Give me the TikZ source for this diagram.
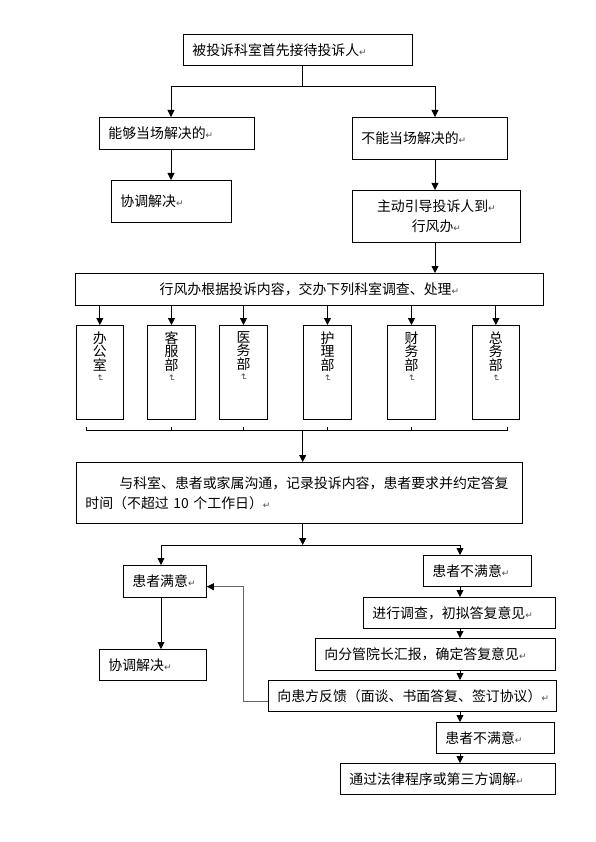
\documentclass[tikz,border=0pt]{standalone}
\usepackage{fontspec}
\setmainfont{Noto Sans CJK SC}
\newfontfamily\markfont{DejaVu Sans}
\usetikzlibrary{arrows.meta}
\newcommand\pmark{{\markfont\fontsize{9}{9}\selectfont\textcolor{black!70}{↵}}}

\begin{document}
\lineskiplimit=-20pt
\begin{tikzpicture}[x=1pt, y=-1pt, line width=0.8pt, font=\fontsize{13.9}{20}\selectfont,
        box/.style = {draw, anchor=north west, inner xsep=9pt, inner ysep=0pt, align=left},
        cbox/.style = {draw, anchor=north west, inner sep=0pt, align=center},
        dept/.style = {draw, anchor=north west, minimum width=47.5pt, minimum height=94pt, inner sep=0pt},
        vtext/.style = {anchor=north, yshift=-6pt, inner sep=0pt, align=center, font=\fontsize{13.9}{13.6}\selectfont},
        arr/.style = {-{Triangle[length=7pt,width=7pt,color=black]}}]
        \useasboundingbox (0,0) rectangle (595,842);
        \node[box, text width=211pt, minimum height=31pt] (top) at (183,34) {被投诉科室首先接待投诉人\pmark};
        \node[box, text width=137pt, minimum height=32pt] (can) at (99,117) {能够当场解决的\pmark};
        \node[box, text width=137pt, minimum height=42pt] (cannot) at (352,117) {不能当场解决的\pmark};
        \node[box, text width=102pt, minimum height=42pt] (solve1) at (111,180) {协调解决\pmark};
        \node[cbox, minimum width=168pt, minimum height=52pt] (guide) at (352,190) {主动引导投诉人到\pmark\\行风办\pmark};
        \node[cbox, minimum width=468pt, minimum height=32pt] (office) at (75,273) {行风办根据投诉内容，交办下列科室调查、处理\pmark};
        \foreach \x/\n/\t in {75.7/1/办\\公\\室, 147.3/2/客\\服\\部, 219.3/3/医\\务\\部, 303.3/4/护\\理\\部, 387.3/5/财\\务\\部, 471.7/6/总\\务\\部} {
            \node[dept] (d\n) at (\x,325) {};
            \node[vtext] (t\n) at (d\n.north) {\t\\[-3pt]\rotatebox[origin=c]{-90}{\pmark}};
        }
        \node[box, text width=428pt, minimum height=61pt] (comm) at (76,462) {\hspace*{34pt}与科室、患者或家属沟通，记录投诉内容，患者要求并约定答复\\时间（不超过 10 个工作日）\pmark};
        \node[box, text width=65pt, minimum height=32pt] (sat) at (123,565) {患者满意\pmark};
        \node[box, text width=90pt, minimum height=31pt] (unsat1) at (423,555) {患者不满意\pmark};
        \node[box, text width=174pt, minimum height=31pt] (invest) at (363,597) {进行调查，初拟答复意见\pmark};
        \node[box, text width=222pt, minimum height=32pt] (report) at (315,638) {向分管院长汇报，确定答复意见\pmark};
        \node[box, text width=270pt, minimum height=31pt] (feedback) at (268,680) {向患方反馈（面谈、书面答复、签订协议）\pmark};
        \node[box, text width=100pt, minimum height=31pt] (unsat2) at (436,722) {患者不满意\pmark};
        \node[box, text width=197pt, minimum height=31pt] (legal) at (340,763) {通过法律程序或第三方调解\pmark};
        \node[box, text width=89pt, minimum height=31pt] (solve2) at (99,649) {协调解决\pmark};

        \coordinate (j1) at (302.7,86);
        \coordinate (cL) at (171,0);
        \coordinate (cR) at (435,0);
        \draw (top.south -| j1) -- (j1);
        \draw[arr] (j1) -| (can.north -| cL);
        \draw[arr] (j1) -| (cannot.north -| cR);
        \draw[arr] (can.south -| cL) -- (solve1.north -| cL);
        \draw[arr] (cannot.south -| cR) -- (guide.north -| cR);
        \draw[arr] (guide.south -| cR) -- (office.north -| cR);
        \foreach \n in {1,...,6} \draw[arr] (office.south -| d\n.north) -- (d\n.north);

        \coordinate (b1) at (86.7,430.7);
        \coordinate (b2) at (507.7,430.7);
        \draw (b1) ++(0,-4) -- (b1) -- (b2) -- ++(0,-4);
        \foreach \n in {2,...,5} \draw (b1 -| d\n.south) -- ++(0,-4);
        \draw[arr] (b1 -| j1) -- (comm.north -| j1);

        \coordinate (j2) at (302.7,545);
        \coordinate (j2L) at (161,545);
        \coordinate (j2R) at (460,545);
        \draw[arr] (comm.south -| j2) -- (j2);
        \draw (j2L) -- (j2R);
        \draw[arr] (j2L) -- (sat.north -| j2L);
        \draw[arr] (j2R) -- (unsat1.north -| j2R);
        \draw[arr] (unsat1.south -| j2R) -- (invest.north -| j2R);
        \draw[arr] (invest.south -| j2R) -- (report.north -| j2R);
        \draw[arr] (report.south -| j2R) -- (feedback.north -| j2R);
        \draw[arr] (feedback.south -| j2R) -- (unsat2.north -| j2R);
        \draw[arr] (unsat2.south -| j2R) -- (legal.north -| j2R);
        \draw[arr] (sat.south -| j2L) -- (solve2.north -| j2L);

        \coordinate (fb1) at (243.3,701.3);
        \coordinate (fb2) at (243.3,586.7);
        \draw[arr, black!60] (feedback.west |- fb1) -- (fb1) -- (fb2) -- (sat.east |- fb2);
    \end{tikzpicture}
\end{document}
